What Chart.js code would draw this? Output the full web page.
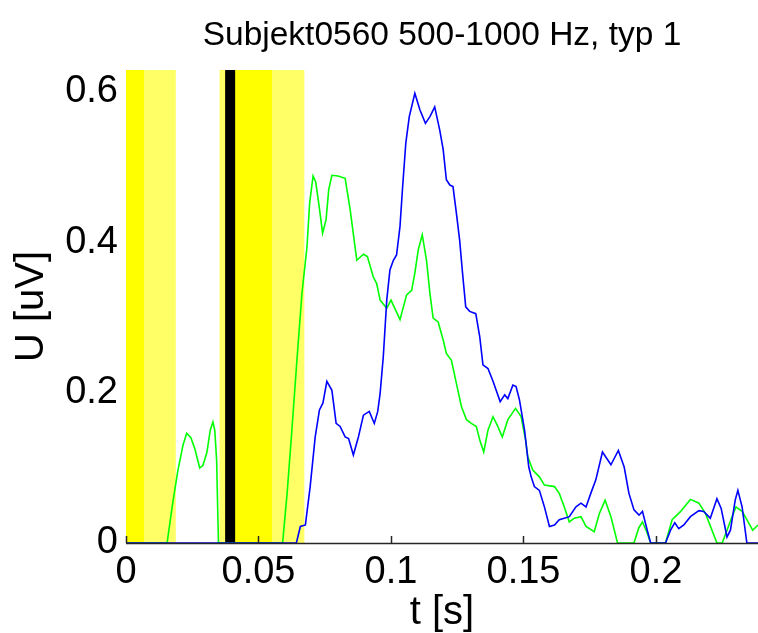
<!DOCTYPE html>
<html><head><meta charset="utf-8">
<script src="https://cdn.jsdelivr.net/npm/chart.js@4.4.0/dist/chart.umd.min.js"></script>
<style>html,body{margin:0;padding:0;background:#fff;overflow:hidden}canvas{display:block}</style>
</head><body>
<canvas id="c" width="758" height="633"></canvas>
<script>
const titleText = 'Subjekt0560 500-1000 Hz, typ 1';
const xAxisTitle = 't [s]';
const yAxisTitle = 'U [uV]';
const xTickValues = [0, 0.05, 0.1, 0.15, 0.2];
const xTickLabels = ['0', '0.05', '0.1', '0.15', '0.2'];
const yTickValues = [0, 0.2, 0.4, 0.6];
const yTickLabels = ['0', '0.2', '0.4', '0.6'];

const blueTimes = [0, 0.0643, 0.0658, 0.0677, 0.0695, 0.0714, 0.073, 0.0743, 0.0758, 0.0777, 0.0793, 0.0808, 0.0827, 0.084, 0.0858, 0.0877, 0.0896, 0.0918, 0.0937, 0.095, 0.0959, 0.0971, 0.0984, 0.0996, 0.1009, 0.1021, 0.1034, 0.1044, 0.1056, 0.1069, 0.109, 0.1109, 0.113, 0.1147, 0.1165, 0.1184, 0.1197, 0.1209, 0.1222, 0.1234, 0.1247, 0.1259, 0.127, 0.1282, 0.1297, 0.132, 0.1335, 0.1347, 0.1366, 0.1385, 0.1397, 0.1412, 0.1429, 0.1441, 0.146, 0.1472, 0.1485, 0.1504, 0.152, 0.1529, 0.1541, 0.156, 0.1579, 0.1598, 0.1617, 0.1635, 0.1654, 0.1673, 0.1698, 0.1717, 0.1736, 0.1754, 0.1773, 0.1798, 0.183, 0.1858, 0.188, 0.1898, 0.1917, 0.1936, 0.1949, 0.1967, 0.198, 0.2036, 0.2055, 0.2071, 0.2086, 0.2105, 0.213, 0.2162, 0.218, 0.2205, 0.223, 0.2246, 0.2268, 0.2281, 0.2299, 0.2309, 0.2325, 0.2343, 0.2385];
const blueValues = [0, 0, 0.022, 0.024, 0.075, 0.141, 0.177, 0.186, 0.215, 0.203, 0.159, 0.155, 0.141, 0.139, 0.117, 0.141, 0.170, 0.175, 0.159, 0.175, 0.199, 0.248, 0.323, 0.363, 0.376, 0.383, 0.421, 0.474, 0.532, 0.567, 0.598, 0.576, 0.558, 0.567, 0.580, 0.549, 0.523, 0.483, 0.476, 0.474, 0.438, 0.403, 0.359, 0.314, 0.308, 0.305, 0.274, 0.237, 0.232, 0.215, 0.203, 0.188, 0.197, 0.192, 0.210, 0.208, 0.190, 0.150, 0.101, 0.088, 0.075, 0.070, 0.048, 0.022, 0.024, 0.031, 0.033, 0.035, 0.048, 0.053, 0.048, 0.066, 0.084, 0.121, 0.104, 0.123, 0.101, 0.066, 0.044, 0.037, 0.042, 0.017, 0, 0, 0.017, 0.027, 0.019, 0.024, 0.035, 0.043, 0.042, 0.033, 0.059, 0.046, 0.008, 0.017, 0.057, 0.070, 0.048, 0, 0];

const greenTimes = [0, 0.0155, 0.0175, 0.0195, 0.0215, 0.0229, 0.0245, 0.026, 0.0278, 0.029, 0.0305, 0.0318, 0.0328, 0.0335, 0.0342, 0.0347, 0.0349, 0.0591, 0.0608, 0.0627, 0.0645, 0.0664, 0.0683, 0.0693, 0.0706, 0.0716, 0.0728, 0.0742, 0.0755, 0.0765, 0.0777, 0.08, 0.0827, 0.0846, 0.0871, 0.0896, 0.0911, 0.0933, 0.0946, 0.0959, 0.0984, 0.1, 0.1034, 0.1059, 0.1078, 0.109, 0.1103, 0.1118, 0.1134, 0.1147, 0.1159, 0.1178, 0.1197, 0.1209, 0.1228, 0.1247, 0.1266, 0.1285, 0.1303, 0.1322, 0.1335, 0.135, 0.1366, 0.1385, 0.1403, 0.142, 0.1441, 0.147, 0.1491, 0.1508, 0.1516, 0.1535, 0.156, 0.1579, 0.1617, 0.1635, 0.1654, 0.1673, 0.1692, 0.1717, 0.1736, 0.1767, 0.1786, 0.1808, 0.183, 0.1855, 0.1917, 0.1935, 0.1949, 0.1965, 0.198, 0.2036, 0.2061, 0.2093, 0.213, 0.2162, 0.2187, 0.223, 0.225, 0.2287, 0.2302, 0.2325, 0.2343, 0.2365, 0.2385];
const greenValues = [0, 0, 0.05, 0.095, 0.13, 0.146, 0.14, 0.125, 0.10, 0.103, 0.12, 0.15, 0.161, 0.15, 0.11, 0.03, 0, 0, 0.066, 0.155, 0.243, 0.332, 0.394, 0.452, 0.488, 0.48, 0.45, 0.412, 0.43, 0.47, 0.489, 0.488, 0.485, 0.443, 0.376, 0.384, 0.381, 0.354, 0.345, 0.323, 0.312, 0.323, 0.297, 0.33, 0.336, 0.359, 0.39, 0.41, 0.376, 0.332, 0.299, 0.294, 0.27, 0.252, 0.243, 0.212, 0.181, 0.164, 0.159, 0.155, 0.137, 0.121, 0.150, 0.168, 0.155, 0.141, 0.164, 0.179, 0.168, 0.137, 0.115, 0.097, 0.088, 0.077, 0.075, 0.066, 0.048, 0.028, 0.033, 0.035, 0.022, 0.015, 0.039, 0.057, 0.035, 0, 0, 0.02, 0.028, 0.015, 0, 0, 0.031, 0.042, 0.058, 0.053, 0.039, 0, 0, 0.035, 0.048, 0.042, 0.031, 0.017, 0.024];

const weakBandStarts = [0, 0.0353];
const weakBandEnds = [0.0188, 0.0673];
const strongBandStarts = [0, 0.0385];
const strongBandEnds = [0.0068, 0.0551];
const markerTimes = [0.0393];

const FONT = '"Liberation Sans", Arial, Helvetica, sans-serif';
const toPoints = (ts, vs) => ts.map((t, i) => ({x: t, y: vs[i]}));

const bandsPlugin = {
  id: 'bands',
  beforeDatasetsDraw(chart) {
    const {ctx, chartArea: a, scales: {x}} = chart;
    ctx.save();
    const fill = (starts, ends, color) => {
      ctx.fillStyle = color;
      starts.forEach((s, i) => {
        const x0 = x.getPixelForValue(s), x1 = x.getPixelForValue(ends[i]);
        ctx.fillRect(x0, a.top, x1 - x0, a.bottom - a.top);
      });
    };
    fill(weakBandStarts, weakBandEnds, 'rgb(255,255,102)');
    fill(strongBandStarts, strongBandEnds, 'rgb(255,255,0)');
    ctx.fillStyle = '#000';
    markerTimes.forEach(t => {
      const px = x.getPixelForValue(t);
      ctx.fillRect(px - 5, a.top, 10, a.bottom - a.top);
    });
    ctx.restore();
  },
  afterDatasetsDraw(chart) {
    const {ctx, chartArea: a, scales: {x}} = chart;
    ctx.save();
    ctx.strokeStyle = '#262626';
    ctx.lineWidth = 1.5;
    ctx.beginPath();
    ctx.moveTo(a.left, a.bottom + 0.5);
    ctx.lineTo(a.right, a.bottom + 0.5);
    xTickValues.forEach(v => {
      const px = Math.round(x.getPixelForValue(v)) + 0.5;
      ctx.moveTo(px, a.bottom);
      ctx.lineTo(px, a.bottom - 7);
    });
    ctx.stroke();
    ctx.restore();
  }
};

new Chart(document.getElementById('c'), {
  type: 'line',
  data: {
    datasets: [
      {label: 'blue', data: toPoints(blueTimes, blueValues), borderColor: '#0000ff', borderWidth: 1.6, pointRadius: 0, tension: 0, fill: false},
      {label: 'green', data: toPoints(greenTimes, greenValues), borderColor: '#00ff00', borderWidth: 1.6, pointRadius: 0, tension: 0, fill: false}
    ]
  },
  options: {
    responsive: false,
    animation: false,
    events: [],
    layout: {padding: 0},
    plugins: {
      legend: {display: false},
      tooltip: {enabled: false},
      title: {
        display: true, text: titleText, fullSize: false, color: '#000',
        font: {family: FONT, size: 33.5, weight: 'normal', lineHeight: 1.2},
        padding: {top: 16, bottom: 13.8}
      }
    },
    scales: {
      x: {
        type: 'linear', min: 0, max: 0.2385,
        grid: {display: false, drawTicks: false},
        border: {display: false},
        afterBuildTicks: s => { s.ticks = xTickValues.map(v => ({value: v})); },
        afterFit: s => { s.height = 90; },
        ticks: {
          color: '#000', padding: 7, maxRotation: 0, autoSkip: false,
          font: {family: FONT, size: 38},
          callback: (v) => xTickLabels[xTickValues.indexOf(v)]
        },
        title: {display: true, text: xAxisTitle, color: '#000', font: {family: FONT, size: 40, lineHeight: 1}, padding: {top: 0, bottom: 0}}
      },
      y: {
        type: 'linear', min: 0, max: 0.629,
        grid: {display: false, drawTicks: false},
        border: {display: false},
        afterBuildTicks: s => { s.ticks = yTickValues.map(v => ({value: v})); },
        afterFit: s => { s.width = 126; },
        ticks: {
          color: '#000', padding: 8, autoSkip: false,
          font: {family: FONT, size: 38},
          callback: (v) => yTickLabels[yTickValues.indexOf(v)]
        },
        title: {display: true, text: yAxisTitle, color: '#000', font: {family: FONT, size: 40, lineHeight: 1.2}, padding: {top: 8, bottom: 0}}
      }
    }
  },
  plugins: [bandsPlugin]
});
</script>
</body></html>
